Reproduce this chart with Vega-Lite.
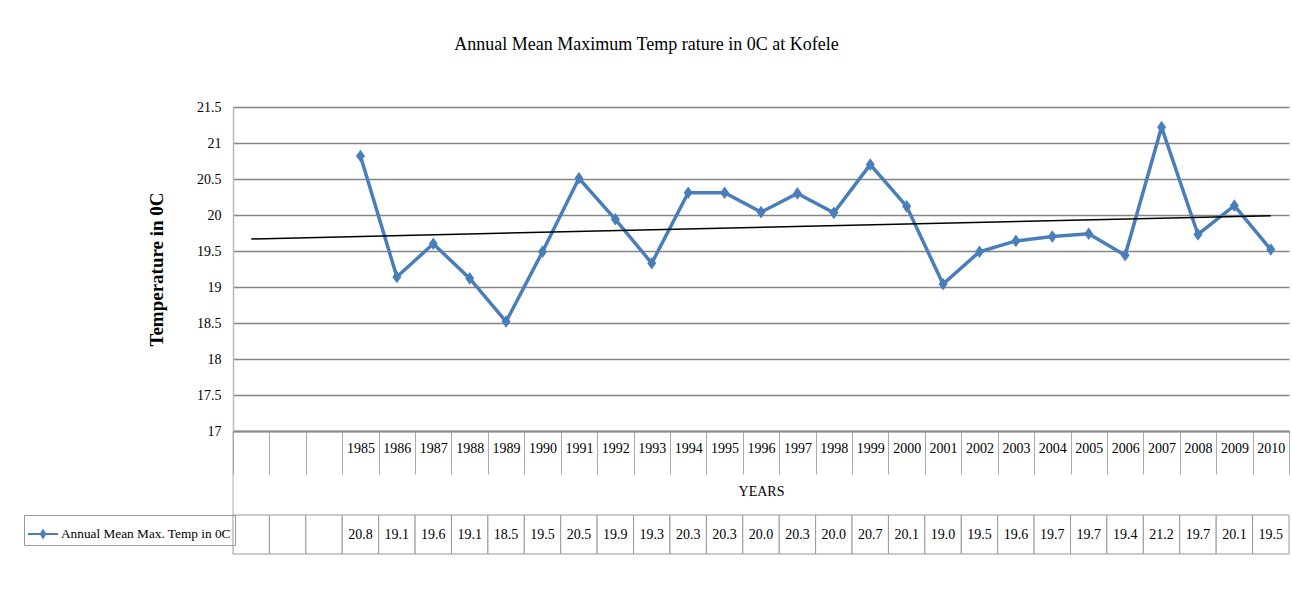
{
  "$schema": "https://vega.github.io/schema/vega-lite/v6.json",
  "width": 1056,
  "height": 324,
  "autosize": {"type": "none"},
  "padding": {"left": 233, "top": 107, "right": 3, "bottom": 170},
  "background": "white",
  "title": {
    "text": "Annual Mean Maximum Temp rature in 0C at  Kofele",
    "font": "Liberation Serif",
    "fontSize": 18,
    "fontWeight": "normal",
    "color": "black",
    "anchor": "middle",
    "frame": "bounds",
    "offset": 46,
    "dx": -10
  },
  "datasets": {
    "temps": [
      {"year": "b1", "temp": null},
      {"year": "b2", "temp": null},
      {"year": "b3", "temp": null},
      {"year": "1985", "temp": 20.82},
      {"year": "1986", "temp": 19.14},
      {"year": "1987", "temp": 19.6},
      {"year": "1988", "temp": 19.12},
      {"year": "1989", "temp": 18.52},
      {"year": "1990", "temp": 19.49},
      {"year": "1991", "temp": 20.51},
      {"year": "1992", "temp": 19.94},
      {"year": "1993", "temp": 19.33},
      {"year": "1994", "temp": 20.31},
      {"year": "1995", "temp": 20.31},
      {"year": "1996", "temp": 20.04},
      {"year": "1997", "temp": 20.3},
      {"year": "1998", "temp": 20.03},
      {"year": "1999", "temp": 20.7},
      {"year": "2000", "temp": 20.12},
      {"year": "2001", "temp": 19.04},
      {"year": "2002", "temp": 19.49},
      {"year": "2003", "temp": 19.64},
      {"year": "2004", "temp": 19.7},
      {"year": "2005", "temp": 19.74},
      {"year": "2006", "temp": 19.44},
      {"year": "2007", "temp": 21.22},
      {"year": "2008", "temp": 19.73},
      {"year": "2009", "temp": 20.13},
      {"year": "2010", "temp": 19.52}
    ],
    "trend": [
      {"year": "b1", "trend": 19.667},
      {"year": "2010", "trend": 19.99}
    ]
  },
  "data": {"name": "temps"},
  "encoding": {
    "x": {
      "field": "year",
      "type": "nominal",
      "sort": null,
      "scale": {
        "domain": ["b1", "b2", "b3", "1985", "1986", "1987", "1988", "1989", "1990", "1991", "1992", "1993", "1994", "1995", "1996", "1997", "1998", "1999", "2000", "2001", "2002", "2003", "2004", "2005", "2006", "2007", "2008", "2009", "2010"],
        "paddingInner": 0,
        "paddingOuter": 0
      },
      "axis": {
        "title": "YEARS",
        "titleFont": "Liberation Serif",
        "titleFontSize": 14,
        "titleFontWeight": "normal",
        "titleColor": "black",
        "titlePadding": 10,
        "labelAngle": 0,
        "labelFont": "Liberation Serif",
        "labelFontSize": 14,
        "labelColor": "black",
        "labelPadding": -33,
        "labelExpr": "indexof(datum.label, 'b') === 0 ? '' : datum.label",
        "tickBand": "extent",
        "tickSize": 43,
        "tickColor": "#aaaaaa",
        "tickWidth": 1,
        "domainColor": "#888888",
        "domainWidth": 2,
        "grid": false
      }
    }
  },
  "layer": [
    {
      "transform": [{"filter": "datum.temp != null"}],
      "mark": {"type": "line", "strokeWidth": 3.5},
      "encoding": {
        "y": {
          "field": "temp",
          "type": "quantitative",
          "scale": {"domain": [17, 21.5], "zero": false, "nice": false},
          "axis": {
            "title": "Temperature in 0C",
            "titleFont": "Liberation Serif",
            "titleFontSize": 19,
            "titleFontWeight": "bold",
            "titleColor": "black",
            "titlePadding": 30,
            "values": [17, 17.5, 18, 18.5, 19, 19.5, 20, 20.5, 21, 21.5],
            "tickCount": 10,
            "format": "~g",
            "labelFont": "Liberation Serif",
            "labelFontSize": 14,
            "labelColor": "black",
            "labelPadding": 12,
            "labelOverlap": false,
            "ticks": false,
            "domainColor": "#bbbbbb",
            "domainWidth": 1.5,
            "grid": true,
            "gridColor": "#858585",
            "gridWidth": 1.5
          }
        },
        "color": {
          "datum": "Annual Mean Max. Temp in 0C",
          "scale": {"range": ["#4A7EBB"]},
          "legend": {
            "orient": "none",
            "legendX": -209,
            "legendY": 408,
            "title": null,
            "symbolType": "M-1,-0.07H1V0.07H-1Z M0,-0.36L0.22,0L0,0.36L-0.22,0Z",
            "symbolSize": 900,
            "symbolFillColor": "#4A7EBB",
            "symbolStrokeWidth": 0,
            "labelFont": "Liberation Serif",
            "labelFontSize": 13.3,
            "labelLimit": 300,
            "labelColor": "black",
            "labelOffset": 3,
            "padding": 4,
            "strokeColor": "#999999"
          }
        }
      }
    },
    {
      "transform": [{"filter": "datum.temp != null"}],
      "mark": {"type": "point", "filled": true, "opacity": 1, "shape": "M0,-1.4L1,0L0,1.4L-1,0Z", "size": 81},
      "encoding": {
        "y": {"field": "temp", "type": "quantitative"},
        "color": {"datum": "Annual Mean Max. Temp in 0C"}
      }
    },
    {
      "data": {"name": "trend"},
      "mark": {"type": "line", "color": "black", "strokeWidth": 1.5},
      "encoding": {
        "x": {"field": "year", "type": "nominal", "sort": null},
        "y": {"field": "trend", "type": "quantitative"}
      }
    },
    {
      "mark": {"type": "rect", "fill": "white", "stroke": "#999999", "strokeWidth": 1},
      "encoding": {
        "y": {"datum": 15.833, "type": "quantitative"},
        "y2": {"datum": 15.292}
      }
    },
    {
      "mark": {"type": "rule", "stroke": "#aaaaaa", "strokeWidth": 1},
      "transform": [{"filter": "datum.year === 'b1'"}],
      "encoding": {
        "x": {"field": "year", "type": "nominal", "sort": null, "bandPosition": 0},
        "y": {"datum": 17, "type": "quantitative"},
        "y2": {"datum": 15.833}
      }
    },
    {
      "mark": {"type": "text", "font": "Liberation Serif", "fontSize": 14, "color": "black", "baseline": "middle"},
      "transform": [{"filter": "datum.temp != null"}],
      "encoding": {
        "y": {"datum": 15.5625, "type": "quantitative"},
        "text": {"field": "temp", "type": "quantitative", "format": ".1f"}
      }
    }
  ],
  "config": {
    "view": {"stroke": null},
    "font": "Liberation Serif"
  }
}
